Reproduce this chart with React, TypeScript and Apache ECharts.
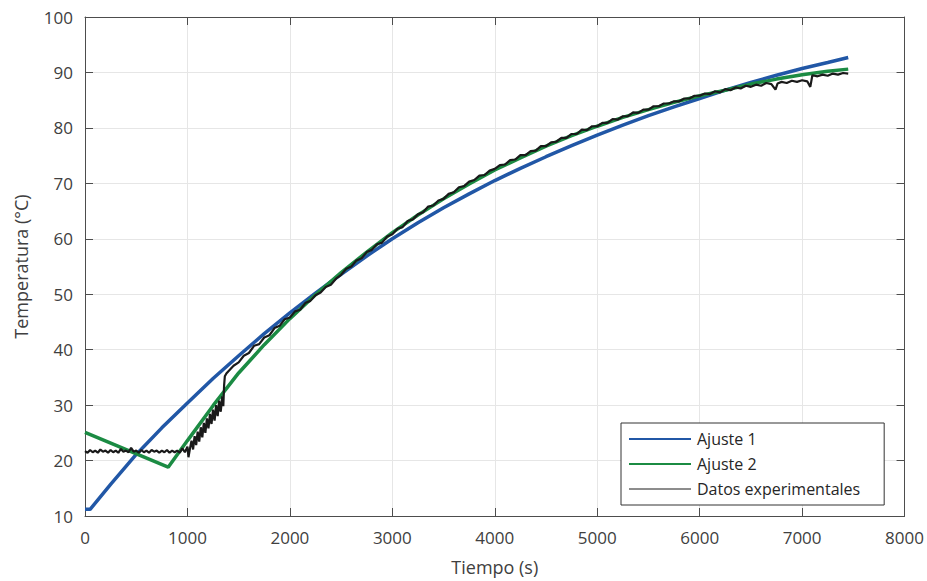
import React, { useEffect, useRef } from "react";
import * as echarts from "echarts";

const xTicks = [0, 1000, 2000, 3000, 4000, 5000, 6000, 7000, 8000];
const yTicks = [10, 20, 30, 40, 50, 60, 70, 80, 90, 100];

const seriesNames = ["Ajuste 1", "Ajuste 2", "Datos experimentales"];
const xTitle = "Tiempo (s)";
const yTitle = "Temperatura (°C)";

const ajuste1: [number, number][] = [
  [0, 11.2], [50, 11.2], [250, 15.7], [500, 21.1], [750, 25.9], [1000, 30.4],
  [1250, 34.8], [1500, 38.9], [1750, 42.9], [2000, 46.65], [2250, 50.2],
  [2500, 53.6], [2750, 56.9], [3000, 60.0], [3250, 62.9], [3500, 65.6],
  [3750, 68.1], [4000, 70.5], [4250, 72.7], [4500, 74.8], [4750, 76.8],
  [5000, 78.7], [5250, 80.5], [5500, 82.2], [5750, 83.8], [6000, 85.3],
  [6250, 86.8], [6500, 88.2], [6750, 89.5], [7000, 90.7], [7250, 91.8],
  [7450, 92.7],
];

const ajuste2: [number, number][] = [
  [0, 25.1], [812, 18.8], [1000, 23.6], [1250, 29.9], [1500, 35.8],
  [1750, 40.9], [2000, 45.6], [2250, 49.9], [2500, 53.9], [2750, 57.6],
  [3000, 61.1], [3250, 64.3], [3500, 67.2], [3750, 69.9], [4000, 72.4],
  [4250, 74.6], [4500, 76.7], [4750, 78.6], [5000, 80.3], [5250, 81.9],
  [5500, 83.3], [5750, 84.6], [6000, 85.8], [6250, 86.8], [6500, 87.9],
  [6750, 88.8], [7000, 89.6], [7250, 90.2], [7450, 90.6],
];

const datos: [number, number][] = [
  [0, 21.7], [25, 21.4], [50, 21.9], [75, 21.5], [100, 21.8], [125, 21.4],
  [150, 22.0], [175, 21.6], [200, 21.8], [225, 21.4], [250, 21.9], [275, 21.5],
  [300, 21.8], [325, 21.4], [350, 22.1], [375, 21.6], [400, 21.8], [425, 21.5],
  [450, 22.3], [475, 21.6], [500, 21.8], [525, 21.4], [550, 21.9], [575, 21.5],
  [600, 21.8], [625, 21.4], [650, 21.9], [675, 21.6], [700, 21.8], [725, 21.4],
  [750, 21.8], [775, 21.5], [800, 21.9], [825, 21.4], [850, 21.8], [875, 21.5],
  [900, 21.8], [925, 21.4], [950, 22.2], [975, 21.5], [1000, 22.5], [1010, 20.6],
  [1025, 22.2], [1040, 23.6], [1055, 22.0], [1070, 24.4], [1085, 22.8], [1100, 25.2],
  [1115, 23.4], [1130, 26.0], [1145, 24.2], [1160, 26.8], [1175, 25.0], [1190, 27.6],
  [1205, 25.8], [1220, 28.4], [1235, 26.6], [1250, 29.2], [1265, 27.2], [1280, 30.0],
  [1295, 28.0], [1310, 30.8], [1325, 28.8], [1340, 31.6], [1350, 29.8], [1358, 33.6],
  [1365, 35.2], [1380, 35.7], [1400, 36.1], [1450, 37.1], [1500, 37.7], [1550, 38.9],
  [1600, 39.4], [1650, 40.7], [1700, 41.0], [1750, 42.2], [1800, 42.6], [1850, 43.9],
  [1900, 44.3], [1950, 45.5], [2000, 45.8], [2050, 46.9], [2100, 47.2], [2150, 48.4],
  [2200, 48.8], [2250, 49.8], [2300, 50.3], [2350, 51.3], [2400, 51.7], [2450, 52.8],
  [2500, 53.5], [2550, 54.6], [2600, 55.0], [2650, 56.1], [2700, 56.5], [2750, 57.6],
  [2800, 58.0], [2850, 59.0], [2900, 59.3], [2950, 60.4], [3000, 60.8], [3050, 61.8],
  [3100, 62.1], [3150, 63.2], [3200, 63.5], [3250, 64.4], [3300, 64.8], [3350, 65.8],
  [3400, 66.0], [3450, 66.9], [3500, 67.2], [3550, 68.1], [3600, 68.4], [3650, 69.3],
  [3700, 69.5], [3750, 70.3], [3800, 70.6], [3850, 71.4], [3900, 71.5], [3950, 72.3],
  [4000, 72.6], [4050, 73.3], [4100, 73.4], [4150, 74.2], [4200, 74.3], [4250, 75.1],
  [4300, 75.1], [4350, 75.8], [4400, 75.9], [4450, 76.7], [4500, 76.7], [4550, 77.4],
  [4600, 77.5], [4650, 78.2], [4700, 78.2], [4750, 78.9], [4800, 78.9], [4850, 79.7],
  [4900, 79.6], [4950, 80.3], [5000, 80.3], [5050, 80.9], [5100, 80.9], [5150, 81.6],
  [5200, 81.5], [5250, 82.1], [5300, 82.1], [5350, 82.8], [5400, 82.7], [5450, 83.3],
  [5500, 83.3], [5550, 83.9], [5600, 83.9], [5650, 84.4], [5700, 84.4], [5750, 84.8],
  [5800, 84.8], [5850, 85.3], [5900, 85.3], [5950, 85.8], [6000, 85.8], [6050, 86.2],
  [6100, 86.1], [6150, 86.6], [6200, 86.4], [6250, 87.0], [6300, 86.8], [6350, 87.3],
  [6400, 87.1], [6450, 87.6], [6500, 87.4], [6550, 87.8], [6600, 87.6], [6650, 88.1],
  [6700, 87.9], [6740, 86.9], [6760, 88.0], [6800, 88.3], [6850, 88.1], [6900, 88.5],
  [6950, 88.3], [7000, 88.6], [7050, 88.4], [7080, 87.4], [7100, 89.5], [7150, 89.3],
  [7200, 89.6], [7250, 89.4], [7300, 89.8], [7350, 89.6], [7400, 89.9], [7450, 89.8],
];

const FONT = "'Open Sans', 'Noto Sans', sans-serif";
const TEXT = "#404040";
const AXIS = "#4d4d4d";

export default function App() {
  const ref = useRef<HTMLDivElement>(null);
  useEffect(() => {
    if (!ref.current) return;
    const chart = echarts.init(ref.current, undefined, { renderer: "svg" });
    const xMin = xTicks[0];
    const xMax = xTicks[xTicks.length - 1];
    const yMin = yTicks[0];
    const yMax = yTicks[yTicks.length - 1];
    const xInt = xTicks[1] - xTicks[0];
    const yInt = yTicks[1] - yTicks[0];
    const baseAxis = {
      axisLine: { show: true, onZero: false, lineStyle: { color: AXIS, width: 1 } },
      axisTick: { show: true, inside: true, length: 8, lineStyle: { color: AXIS, width: 1 } },
    };
    chart.setOption({
      animation: false,
      backgroundColor: "#ffffff",
      textStyle: { fontFamily: FONT },
      grid: { left: 85, right: 22, top: 17, bottom: 63, containLabel: false },
      legend: {
        orient: "vertical",
        left: 621,
        top: 423,
        padding: [8, 24, 8, 7],
        itemWidth: 62,
        itemHeight: 14,
        itemGap: 9,
        backgroundColor: "#ffffff",
        borderColor: "#333333",
        borderWidth: 1,
        borderRadius: 0,
        itemStyle: { opacity: 0 },
        textStyle: { fontFamily: FONT, fontSize: 16, color: "#262626", padding: [0, 0, 0, 1] },
        data: [
          { name: seriesNames[0] },
          { name: seriesNames[1] },
          { name: seriesNames[2], lineStyle: { width: 1 } },
        ],
      },
      xAxis: [
        {
          type: "value",
          min: xMin,
          max: xMax,
          interval: xInt,
          position: "bottom",
          ...baseAxis,
          axisLabel: {
            color: TEXT,
            fontSize: 17,
            fontFamily: FONT,
            margin: 13,
            formatter: (v: number) => String(v),
          },
          splitLine: { show: true, lineStyle: { color: "#e6e6e6", width: 1 } },
          name: xTitle,
          nameLocation: "middle",
          nameGap: 42,
          nameTextStyle: { color: TEXT, fontSize: 18, fontFamily: FONT },
        },
        {
          type: "value",
          min: xMin,
          max: xMax,
          interval: xInt,
          position: "top",
          ...baseAxis,
          axisLabel: { show: false },
          splitLine: { show: false },
        },
      ],
      yAxis: [
        {
          type: "value",
          min: yMin,
          max: yMax,
          interval: yInt,
          position: "left",
          ...baseAxis,
          axisLabel: {
            color: TEXT,
            fontSize: 17,
            fontFamily: FONT,
            margin: 12,
            formatter: (v: number) => String(v),
          },
          splitLine: { show: true, lineStyle: { color: "#e6e6e6", width: 1 } },
          name: yTitle,
          nameLocation: "middle",
          nameGap: 55,
          nameTextStyle: { color: TEXT, fontSize: 18, fontFamily: FONT },
        },
        {
          type: "value",
          min: yMin,
          max: yMax,
          interval: yInt,
          position: "right",
          ...baseAxis,
          axisLabel: { show: false },
          splitLine: { show: false },
        },
      ],
      series: [
        {
          name: seriesNames[0],
          type: "line",
          data: ajuste1,
          showSymbol: false,
          symbol: "none",
          color: "#2157a6",
          lineStyle: { color: "#2157a6", width: 3.5 },
          z: 2,
        },
        {
          name: seriesNames[1],
          type: "line",
          data: ajuste2,
          showSymbol: false,
          symbol: "none",
          color: "#1b8b43",
          lineStyle: { color: "#1b8b43", width: 3.5 },
          z: 3,
        },
        {
          name: seriesNames[2],
          type: "line",
          data: datos,
          showSymbol: false,
          symbol: "none",
          color: "#1a1a1a",
          lineStyle: { color: "#1a1a1a", width: 2.2 },
          z: 4,
        },
      ],
    });
    return () => chart.dispose();
  }, []);
  return (
    <div
      ref={ref}
      style={{ position: "fixed", left: 0, top: 0, width: 927, height: 581, background: "#fff" }}
    />
  );
}
